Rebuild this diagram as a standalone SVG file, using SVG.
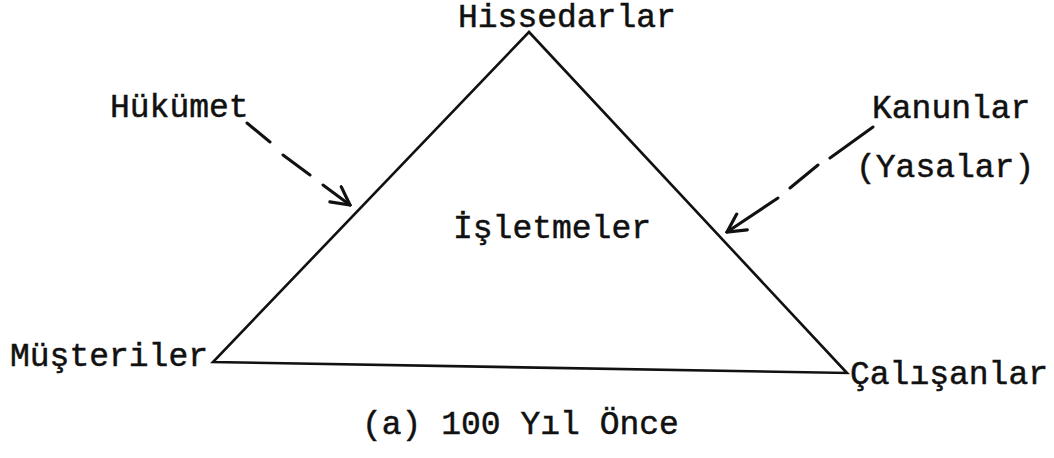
<svg xmlns="http://www.w3.org/2000/svg" width="1054" height="458" viewBox="0 0 1054 458">
<style>
  text { font-family: "Liberation Mono", "Courier New", monospace; font-size: 33px; fill: #111; stroke: #111; stroke-width: 0.5; }
  .edge { stroke: #111; stroke-width: 2.6; fill: none; stroke-linejoin: miter; }
  .dash { stroke: #111; stroke-width: 3; fill: none; stroke-linecap: round; }
</style>
<defs>
  <marker id="chev" viewBox="0 0 22 22" refX="20" refY="11" markerWidth="22" markerHeight="22" markerUnits="userSpaceOnUse" orient="auto">
    <path d="M2,1.5 L20,11 L2,20.5" fill="none" stroke="#111" stroke-width="3.2" stroke-linecap="round" stroke-linejoin="miter"/>
  </marker>
</defs>
<rect width="1054" height="458" fill="#fff"/>
<g id="triangle">
  <path class="edge" d="M529,32 L213,362 L847,373 Z"/>
</g>
<g id="node-hissedarlar"><text x="458" y="27">Hissedarlar</text></g>
<g id="node-musteriler"><text x="10" y="366">Müşteriler</text></g>
<g id="node-calisanlar"><text x="850" y="384">Çalışanlar</text></g>
<g id="node-isletmeler"><text x="453" y="238">İşletmeler</text></g>
<g id="node-hukumet"><text x="110" y="117">Hükümet</text></g>
<g id="node-kanunlar"><text x="872" y="118">Kanunlar</text><text x="856" y="177">(Yasalar)</text></g>
<g id="connectors">
  <path class="dash" d="M247,123 L270,142 M283,155 L310,175 M323,185 L350,205" marker-end="url(#chev)"/>
  <path class="dash" d="M873,127 L830,158 M818,165 L790,188 M778,198 L727,232" marker-end="url(#chev)"/>
</g>
<g id="caption"><text x="362" y="434">(a) 100 Yıl Önce</text></g>
</svg>
